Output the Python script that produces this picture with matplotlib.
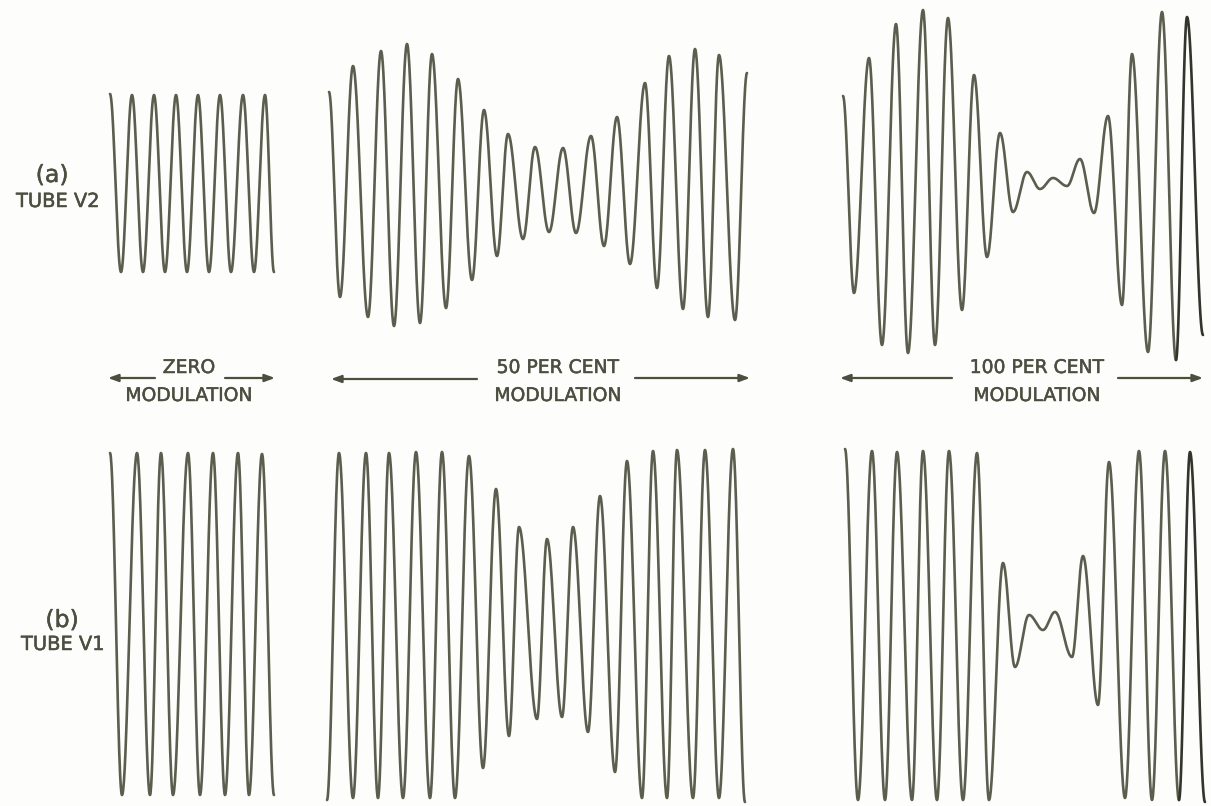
import numpy as np
import matplotlib
matplotlib.use("Agg")
import matplotlib.pyplot as plt
import matplotlib.patheffects as pe

# ---- data: extrema of each trace (time position, signal level) ----
# (a) Tube V2
a_zero_t = [110, 121, 132, 143, 154, 165, 176, 187, 198, 209, 220, 231, 243, 254, 265, 274]
a_zero_v = [94, 272, 95, 272, 95, 272, 95, 272, 95, 272, 95, 272, 95, 272, 95, 272]

a_50_t = [329, 340, 353, 368, 381, 394, 407, 420, 432, 446, 458, 472, 484, 497, 508, 523, 535,
          549, 563, 576, 591, 604, 617, 630, 645, 657, 669, 683, 695, 708, 719, 735, 747]
a_50_v = [92, 297, 66, 317, 51, 326, 44, 323, 54, 308, 79, 280, 110, 256, 134, 239, 147,
          232, 148, 233, 136, 246, 117, 264, 83, 288, 56, 309, 49, 317, 55, 320, 73]

a_100_t = [843, 854, 869, 882, 896, 908, 923, 935, 948, 962, 974, 987, 1000, 1013, 1027, 1040,
           1053, 1067, 1080, 1094, 1108, 1122, 1132, 1148, 1162, 1176, 1187, 1203]
a_100_v = [96, 293, 58, 345, 24, 353, 10, 345, 18, 310, 75, 257, 133, 212, 172, 189,
           178, 186, 159, 213, 116, 305, 54, 352, 12, 360, 17, 335]

# (b) Tube V1
b_zero_t = [110, 122, 137, 150, 161, 173, 188, 200, 213, 225, 238, 249, 262, 274]
b_zero_v = [453, 795, 453, 795, 453, 795, 453, 795, 453, 795, 453, 795, 454, 795]

b_50_t = [327, 339, 353, 366, 378, 389, 403, 416, 430, 442, 455, 469, 483, 496, 509, 519, 537,
          547, 562, 573, 588, 600, 615, 627, 642, 653, 667, 677, 693, 705, 719, 733, 745]
b_50_v = [800, 453, 798, 453, 798, 453, 798, 452, 798, 452, 798, 456, 768, 489, 736, 527, 719,
          539, 717, 527, 732, 496, 772, 461, 798, 451, 798, 450, 798, 450, 798, 449, 802]

b_100_t = [845, 858, 872, 885, 897, 912, 923, 937, 949, 963, 977, 989, 1003, 1015, 1029, 1043,
           1055, 1072, 1083, 1098, 1109, 1125, 1139, 1152, 1165, 1179, 1190, 1205]
b_100_v = [449, 800, 451, 800, 452, 800, 451, 800, 451, 800, 453, 800, 563, 667, 615, 630,
           612, 657, 556, 705, 462, 798, 451, 800, 451, 800, 452, 802]

row_labels = ["(a)", "(b)"]
row_tubes = ["TUBE V2", "TUBE V1"]
mod_top = ["ZERO", "50 PER CENT", "100 PER CENT"]
mod_bottom = ["MODULATION", "MODULATION", "MODULATION"]

# ---- style / layout ----
LINE = "#5b5e4e"
DARK = "#33342c"
TXT = "#4c4e40"
W, H = 1211, 806

fig = plt.figure(figsize=(W / 100, H / 100), dpi=100)
fig.patch.set_facecolor("#fdfdfb")
ax = fig.add_axes([0, 0, 1, 1])
ax.set_xlim(0, W)
ax.set_ylim(H, 0)
ax.axis("off")


def trace(t, v, dark_tail=0):
    t = np.asarray(t, float)
    v = np.asarray(v, float)
    xs, ys = [], []
    for i in range(len(t) - 1):
        s = np.linspace(0, 1, 40)
        w = (1 - np.cos(np.pi * s)) / 2
        xs.append(t[i] + (t[i + 1] - t[i]) * s)
        ys.append(v[i] + (v[i + 1] - v[i]) * w)
    n_light = len(xs) - dark_tail
    X = np.concatenate(xs[:n_light])
    Y = np.concatenate(ys[:n_light])
    ax.plot(X, Y, color=LINE, lw=1.9, solid_capstyle="round", solid_joinstyle="round")
    if dark_tail:
        X2 = np.concatenate(xs[n_light:])
        Y2 = np.concatenate(ys[n_light:])
        ax.plot(X2, Y2, color=DARK, lw=1.9, solid_capstyle="round")


trace(a_zero_t, a_zero_v)
trace(a_50_t, a_50_v)
trace(a_100_t, a_100_v, dark_tail=2)
trace(b_zero_t, b_zero_v)
trace(b_50_t, b_50_v)
trace(b_100_t, b_100_v, dark_tail=2)

thick = [pe.withStroke(linewidth=0.35, foreground=TXT)]
font = dict(family="DejaVu Sans", color=TXT, path_effects=thick)

# row labels
ax.text(52, 182, row_labels[0], ha="center", va="baseline", fontsize=17, **font)
ax.text(58, 207, row_tubes[0], ha="center", va="baseline", fontsize=14, **font)
ax.text(62, 627, row_labels[1], ha="center", va="baseline", fontsize=17, **font)
ax.text(63, 650, row_tubes[1], ha="center", va="baseline", fontsize=14, **font)

# modulation captions
cap_x = [189, 558, 1037]
for x, t1, t2 in zip(cap_x, mod_top, mod_bottom):
    ax.text(x, 373, t1, ha="center", va="baseline", fontsize=13.5, **font)
    ax.text(x, 401, t2, ha="center", va="baseline", fontsize=13.5, **font)

# arrows (tail, head)
arrows = [((155, 378), (108, 378)), ((225, 378), (275, 378)),
          ((477, 379), (331, 379)), ((635, 378), (750, 378)),
          ((952, 378), (840, 378)), ((1118, 378), (1203, 378))]
for tail, head in arrows:
    ax.annotate("", xy=head, xytext=tail,
                arrowprops=dict(arrowstyle="-|>,head_length=0.6,head_width=0.22",
                                color=TXT, lw=1.6, shrinkA=0, shrinkB=0))

fig.savefig("out.png", dpi=100, facecolor=fig.get_facecolor())
